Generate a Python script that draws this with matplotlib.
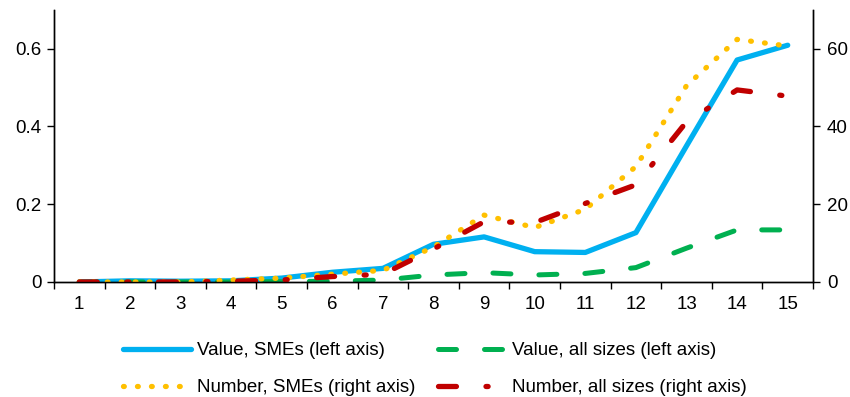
import matplotlib.pyplot as plt
from matplotlib.ticker import FixedLocator

plt.rcParams['font.family'] = ['Liberation Sans', 'DejaVu Sans']
plt.rcParams['font.size'] = 13.5

periods = list(range(1, 16))

value_smes = [0.0, 0.003, 0.002, 0.003, 0.01, 0.025, 0.035, 0.097, 0.116, 0.078, 0.076, 0.127, 0.35, 0.571, 0.609]
value_all = [0.0, 0.0, 0.0, 0.0, 0.001, 0.002, 0.005, 0.018, 0.024, 0.018, 0.022, 0.037, 0.087, 0.134, 0.134]
number_smes = [0.0, 0.0, 0.0, 0.5, 1.0, 2.0, 3.0, 9.0, 17.2, 14.0, 18.7, 29.7, 50.5, 62.4, 60.7]
number_all = [0.0, 0.0, 0.0, 0.2, 0.5, 1.4, 2.0, 8.5, 15.5, 15.3, 20.2, 25.0, 41.2, 49.4, 47.8]

left_ticks = [0, 0.2, 0.4, 0.6]
left_labels = ['0', '0.2', '0.4', '0.6']
right_ticks = [0, 20, 40, 60]

fig = plt.figure(figsize=(8.5, 3.97), dpi=100)
ax = fig.add_axes([0.0635, 0.2897, 0.8930, 0.6855])
ax2 = ax.twinx()

blue, = ax.plot(periods, value_smes, color='#00b0f0', lw=3.8,
                solid_capstyle='round', solid_joinstyle='round',
                label='Value, SMEs (left axis)')
green, = ax.plot(periods, value_all, color='#00b050', lw=3.6,
                 dashes=(3.6, 5.6), dash_capstyle='round',
                 label='Value, all sizes (left axis)')
yellow, = ax2.plot(periods, number_smes, color='#ffc000', lw=3.8,
                   dashes=(0.15, 2.5), dash_capstyle='round',
                   label='Number, SMEs (right axis)')
red, = ax2.plot(periods, number_all, color='#c00000', lw=3.8,
                dashes=(3.4, 5.6, 0.4, 5.6), dash_capstyle='round',
                label='Number, all sizes (right axis)')

ax.set_xlim(0.5, 15.5)
ax.set_ylim(0, 0.7)
ax2.set_ylim(0, 70)

ax.set_xticks(periods)
ax.set_xticklabels([str(p) for p in periods])
ax.xaxis.set_minor_locator(FixedLocator([p + 0.5 for p in range(0, 16)]))
ax.tick_params(axis='x', which='major', length=0, pad=10)
ax.tick_params(axis='x', which='minor', length=5, direction='out', width=1)

ax.set_yticks(left_ticks)
ax.set_yticklabels(left_labels)
ax.tick_params(axis='y', length=5, direction='out', width=1, pad=4)
ax2.set_yticks(right_ticks)
ax2.tick_params(axis='y', length=5, direction='out', width=1, pad=5)

for a in (ax, ax2):
    a.spines['top'].set_visible(False)
    for s in ('left', 'right', 'bottom'):
        a.spines[s].set_linewidth(1)
        a.spines[s].set_color('black')

fig.legend(handles=[blue, yellow, green, red], ncol=2, loc='center',
           bbox_to_anchor=(0.512, 0.07), frameon=False, handlelength=3.6,
           handletextpad=0.35, columnspacing=1.2, labelspacing=1.05,
           fontsize=13.5)

fig.savefig('out.png', dpi=100)
